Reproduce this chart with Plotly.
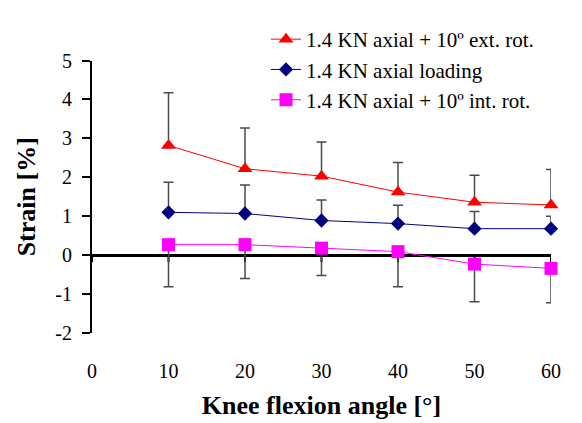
import plotly.graph_objects as go

angles = [10, 20, 30, 40, 50, 60]
ext_rot = [2.82, 2.22, 2.03, 1.62, 1.36, 1.29]
ext_rot_err_plus = [1.35, 1.05, 0.88, 0.76, 0.69, 0.91]
axial = [1.10, 1.07, 0.89, 0.81, 0.68, 0.68]
axial_err_plus = [0.77, 0.73, 0.53, 0.47, 0.44, 0.32]
int_rot = [0.27, 0.27, 0.18, 0.09, -0.23, -0.34]
int_rot_err_minus = [1.08, 0.87, 0.70, 0.90, 0.97, 0.88]

x_ticks = [0, 10, 20, 30, 40, 50, 60]
y_ticks = [-2, -1, 0, 1, 2, 3, 4, 5]

FONT = "Liberation Serif"
ERR_COLOR = "#4a4a4a"

zeros = [0] * len(angles)

fig = go.Figure()
fig.add_trace(go.Scatter(
    x=angles, y=ext_rot, mode="lines+markers",
    name="1.4 KN axial + 10º ext. rot.",
    line=dict(color="#FF0000", width=1),
    marker=dict(symbol="triangle-up", size=13, color="#FF0000"),
    error_y=dict(type="data", symmetric=False, array=ext_rot_err_plus, arrayminus=zeros,
                 color=ERR_COLOR, thickness=1.5, width=5),
    cliponaxis=False,
))
fig.add_trace(go.Scatter(
    x=angles, y=axial, mode="lines+markers",
    name="1.4 KN axial loading",
    line=dict(color="#000080", width=1),
    marker=dict(symbol="diamond", size=11, color="#000080"),
    error_y=dict(type="data", symmetric=False, array=axial_err_plus, arrayminus=zeros,
                 color=ERR_COLOR, thickness=1.5, width=5),
    cliponaxis=False,
))
fig.add_trace(go.Scatter(
    x=angles, y=int_rot, mode="lines+markers",
    name="1.4 KN axial + 10º int. rot.",
    line=dict(color="#FF00FF", width=1),
    marker=dict(symbol="square", size=13, color="#FF00FF"),
    error_y=dict(type="data", symmetric=False, array=zeros, arrayminus=int_rot_err_minus,
                 color=ERR_COLOR, thickness=1.5, width=5),
    cliponaxis=False,
))

y_min, y_max = y_ticks[0], y_ticks[-1]

# the page places the figure 8px from the top-left corner of the window
W, H = 574, 415
M_L, M_R, M_T, M_B = 84, 31, 0, 90
paper_h = H - M_T - M_B
paper_w = W - M_L - M_R
y_top_dom = (paper_h - 43) / paper_h   # y = 5 sits 43px below the figure top

# short tick marks hanging below the zero line (x axis crosses at y = 0)
zero_ticks = [
    dict(type="line", xref="x", yref="y", ysizemode="pixel", yanchor=0,
         x0=t, x1=t, y0=-7, y1=0, line=dict(color="black", width=2), layer="below")
    for t in x_ticks
]

fig.update_layout(
    width=W, height=H,
    margin=dict(l=M_L, r=M_R, t=M_T, b=M_B),
    paper_bgcolor="white", plot_bgcolor="white",
    font=dict(family=FONT, color="black", size=20),
    showlegend=True,
    shapes=zero_ticks,
    legend=dict(
        x=(258 - M_L) / paper_w, y=1.0, xanchor="left", yanchor="top",
        bgcolor="rgba(0,0,0,0)", font=dict(size=21, family=FONT),
        tracegroupgap=0, itemsizing="trace",
    ),
    xaxis=dict(
        range=[x_ticks[0], x_ticks[-1]], tickvals=x_ticks, ticktext=[str(t) for t in x_ticks],
        showline=False, showgrid=False, zeroline=False, ticks="",
        ticklabelstandoff=24, tickfont=dict(size=20, family=FONT),
        title=dict(text="<b>Knee flexion angle [°]</b>", font=dict(size=26, family=FONT), standoff=14),
    ),
    yaxis=dict(
        domain=[0, y_top_dom],
        range=[y_min, y_max], tickvals=y_ticks, ticktext=[str(t) for t in y_ticks],
        showline=True, linecolor="black", linewidth=2, mirror=False,
        ticks="outside", ticklen=8, tickwidth=2, tickcolor="black",
        ticklabelstandoff=6,
        showgrid=False, zeroline=True, zerolinecolor="black", zerolinewidth=2.5,
        tickfont=dict(size=20, family=FONT),
        title=dict(text="<b>Strain [%]</b>", font=dict(size=26, family=FONT), standoff=12),
    ),
)

fig.write_html("out.html")
